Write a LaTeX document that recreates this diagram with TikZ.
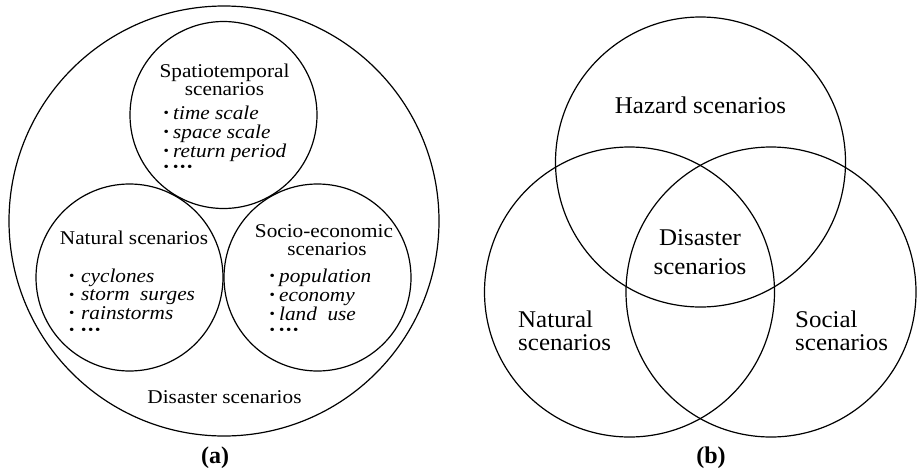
\documentclass[tikz,border=0pt]{standalone}
\usepackage{fontspec}
\setmainfont{Liberation Serif}
\newfontfamily\fontA[FakeStretch=1.09]{Liberation Serif}
\newfontfamily\fontB[FakeStretch=1.04]{Liberation Serif}
\newcommand\mybul{\raisebox{1.3pt}{\fontsize{14}{14}\selectfont\textbullet}}
\newcommand\mydots{\mybul\hspace{1.6pt}\mybul\hspace{1.6pt}\mybul}
% a block of lines with fixed baseline distance; its baseline is that of the first line
\newcommand\lines[2]{\vtop{\baselineskip=#1\lineskiplimit=-100pt\lineskip=0pt #2}}
\begin{document}
\begin{tikzpicture}[x=1pt,y=-1pt,
  ring/.style={draw, circle, line width=1.2pt, inner sep=0pt},
  ta/.style={font=\fontA\fontsize{19.5}{19.5}\selectfont, inner sep=0pt, anchor=base},
  tb/.style={font=\fontB\fontsize{24}{24}\selectfont, inner sep=0pt, anchor=base},
  itemA/.style={ta, anchor=base west},
  lab/.style={font=\fontsize{24}{24}\selectfont\bfseries, inner sep=0pt, anchor=base}]
\useasboundingbox (0,0) rectangle (917,471);
% ---------- (a) ----------
\node[ring, minimum size=430pt] (outer) at (224,221) {};
\node[ring, minimum size=187pt] (spat) at (223.5,115) {};
\node[ring, minimum size=187pt] (nat) at (129.5,277.5) {};
\node[ring, minimum size=187pt] (soc) at (317.5,277.5) {};
% spatiotemporal
\node[ta] (stitle) at (224.5,77) {\lines{18pt}{\hbox to 0pt{\hss Spatiotemporal\hss}\hbox to 0pt{\hss scenarios\hss}}};
\node[itemA] (slist) at (159,119) {\lines{19pt}{%
  \hbox{\makebox[14pt][c]{\mybul}\textit{time scale}}%
  \hbox{\makebox[14pt][c]{\mybul}\textit{space scale}}%
  \hbox{\makebox[14pt][c]{\mybul}\textit{return period}}%
  \vskip-3pt\hbox{\makebox[14pt][c]{\mybul}\mydots}}};
% natural
\node[ta] (ntitle) at (134,244) {Natural scenarios};
\node[itemA] (nlist) at (62,282) {\lines{18.5pt}{%
  \hbox{\makebox[19pt][c]{\mybul}\textit{cyclones}}%
  \hbox{\makebox[19pt][c]{\mybul}\textit{storm\ \ surges}}%
  \hbox{\makebox[19pt][c]{\mybul}\textit{rainstorms}}%
  \vskip-1.5pt\hbox{\makebox[19pt][c]{\mybul}\mydots}}};
% socio-economic
\node[ta] (etitle) at (324,237) {\lines{18pt}{\hbox to 0pt{\hss Socio-economic\hss}\hbox to 0pt{\hss\hspace{6pt}scenarios\hss}}};
\node[itemA] (elist) at (265,282) {\lines{19pt}{%
  \hbox{\makebox[14pt][c]{\mybul}\textit{population}}%
  \hbox{\makebox[14pt][c]{\mybul}\textit{economy}}%
  \hbox{\makebox[14pt][c]{\mybul}\textit{land\ \ use}}%
  \vskip-3pt\hbox{\makebox[14pt][c]{\mybul}\mydots}}};
% disaster
\node[ta] (dlabel) at (224.5,403) {Disaster scenarios};
\node[lab] (la) at (215,463) {(a)};
% ---------- (b) ----------
\node[ring, minimum size=290pt] (haz) at (700.5,162) {};
\node[ring, minimum size=290pt] (natb) at (629.5,292) {};
\node[ring, minimum size=290pt] (socb) at (771,292) {};
\node[tb] (hlabel) at (700.5,113) {Hazard scenarios};
\node[tb] (blabel) at (700,245) {\lines{29pt}{\hbox to 0pt{\hss Disaster\hss}\hbox to 0pt{\hss scenarios\hss}}};
\node[tb, anchor=base west] (nblabel) at (518,327) {\lines{23pt}{\hbox{Natural}\hbox{scenarios}}};
\node[tb, anchor=base west] (sblabel) at (795,327) {\lines{23pt}{\hbox{Social}\hbox{scenarios}}};
\node[lab] (lb) at (711,463) {(b)};
\end{tikzpicture}
\end{document}
